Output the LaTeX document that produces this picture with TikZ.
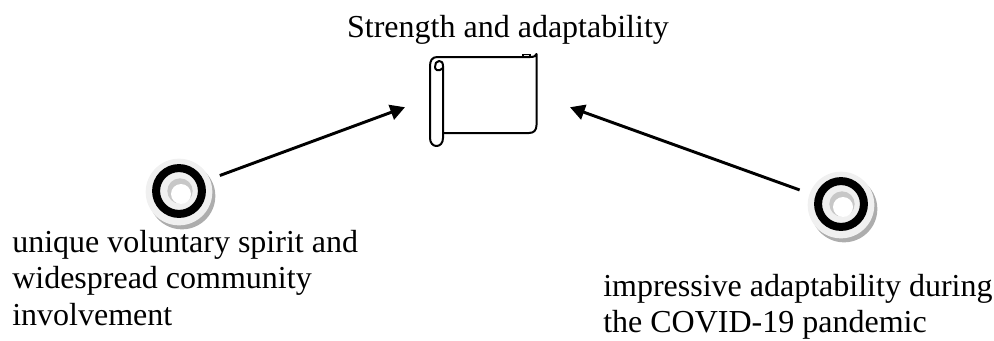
\documentclass[tikz,border=0pt]{standalone}
\usepackage{fontspec}
\setmainfont{Liberation Serif}
\usetikzlibrary{arrows.meta}

\tikzset{
    label/.style={inner sep=0pt,align=left,anchor=north west,font=\fontsize{24}{27.3}\selectfont},
    link/.style={line width=2.2pt,-{Triangle[length=11pt,width=11.5pt]}},
    scrollbox/.style={minimum width=123.75pt,minimum height=106.5pt,inner sep=0pt,outer sep=0pt},
    markspot/.style={shape=circle,minimum size=66pt,inner sep=0pt,outer sep=0pt},
    scrollline/.style={line width=1.5pt,line join=round}
}
\newcommand{\ringmark}[1]{
    \fill[black!32] (#1) ++(3,4) circle (25pt);
    \fill[black!6] (#1) circle (25pt);
    \draw[line width=6pt] (#1) ++(0,-1) circle (17.2pt);
    \fill[black!22] (#1) ++(0,-2) ++(1,1) circle (9.5pt);
    \fill[white] (#1) ++(2,2) circle (7.5pt);
}

\begin{document}
\begin{tikzpicture}[x=0.75pt,y=-0.75pt]
    \useasboundingbox (0,0) rectangle (994,340);

    \ringmark{179,192}
    \ringmark{841,205}

    % scroll
    \draw[line width=1pt,fill=black!10] (523,57) -- (523,54.5) -- (530,54.5) -- (530,57);
    \draw[scrollline] (530,57) .. controls (534,57) and (536,56) .. (536.5,54) -- (536.5,125)
        .. controls (536.5,130) and (534,133) .. (529,133) -- (443,133);
    \draw[scrollline] (530,57) -- (437,57) .. controls (432,57) and (430,61) .. (430,66);
    \draw[scrollline] (430,66) -- (430,138) .. controls (430,143) and (433,146) .. (436.5,146)
        .. controls (440,146) and (443,143) .. (443,138) -- (443,66)
        .. controls (443,62) and (441,61) .. (439,61) .. controls (436,61) and (435,64) .. (435,67)
        .. controls (435,70) and (438,71) .. (440,70) -- (443,68);

    \node[scrollbox] (scroll) at (487.5,100) {};
    \node[markspot] (ringleft) at (179,192) {};
    \node[markspot] (ringright) at (841,205) {};

    \node[label,anchor=south] (title) at (508,45) {Strength and adaptability};
    \node[label] (textleft) at (12,230) {unique voluntary spirit and\\widespread community\\involvement};
    \node[label] (textright) at (603,274) {impressive adaptability during\\the COVID-19 pandemic};

    \draw[link] (ringleft.22) -- (scroll.185);
    \draw[link] (ringright.160) -- (scroll.355);
\end{tikzpicture}
\end{document}
